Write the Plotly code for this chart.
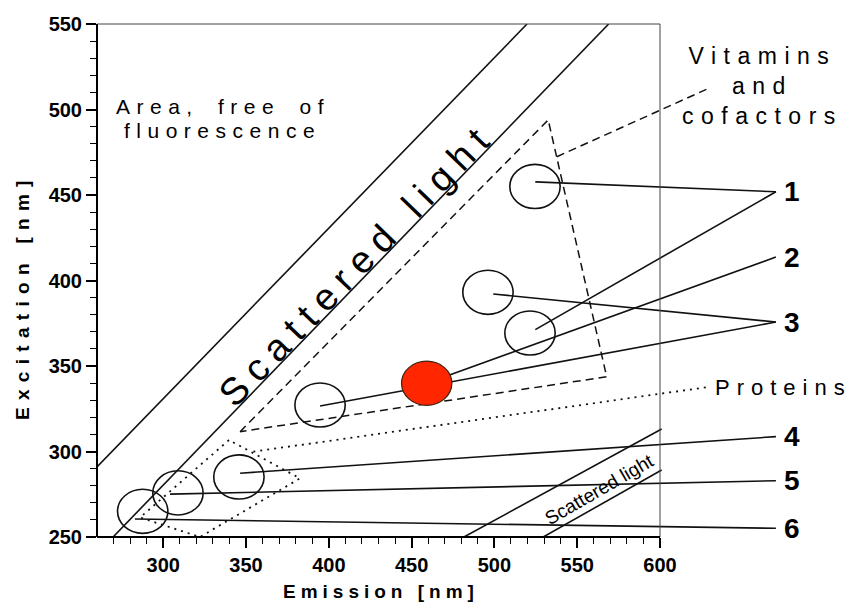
import plotly.graph_objects as go

# ---------------- data ----------------
x_ticks = [300, 350, 400, 450, 500, 550, 600]
y_ticks = [250, 300, 350, 400, 450, 500, 550]
x_minor = [v for v in range(270, 600, 10) if v % 50]
y_minor = [v for v in range(260, 550, 10) if v % 50]

# fluorophore spots (emission, excitation) in nm
spot_em = [524.5, 496.1, 521.5, 459.1, 394.7, 345.7, 308.9, 287.6]
spot_ex = [455.0, 393.1, 369.3, 339.9, 327.2, 285.1, 275.8, 265.0]
highlight_spot = 3

# numbered groups and their leader lines
group_labels = ["1", "2", "3", "4", "5", "6"]
group_ex = [451.9, 413.7, 375.7, 308.7, 282.9, 255.1]
group_em = 670.0
leader_from_em = [[524.7, 524.7], [459.1], [499.3, 394.7], [346.4], [304.1], [282.9]]
leader_from_ex = [[457.7, 371.3], [339.9], [392.1, 326.6], [287.3], [275.1], [260.5]]

# scattered light bands
ray_up_em, ray_up_ex = [260.0, 519.7], [291.0, 550.0]
ray_lo_em, ray_lo_ex = [269.7, 569.0], [250.0, 550.0]
sec_up_em, sec_up_ex = [481.6, 601.0], [250.0, 313.2]
sec_lo_em, sec_lo_ex = [529.5, 601.0], [250.0, 289.2]

# regions
vit_em = [346.4, 532.5, 567.8, 346.4]
vit_ex = [311.6, 493.9, 343.7, 311.6]
vit_ptr_em, vit_ptr_ex = [537.7, 628.1], [472.4, 511.8]
prot_em = [339.7, 286.0, 322.2, 382.6, 339.7]
prot_ex = [306.7, 261.4, 250.0, 284.3, 306.7]
prot_ptr_em, prot_ptr_ex = [354.4, 630.2], [299.9, 337.9]

# ---------------- layout geometry ----------------
W, H = 854, 607
ML, MT, MR, MB = 97, 24, 20, 70
X0, XFRAME = 260, 600
Y0, Y1 = 250, 550
FRAME_RIGHT_PX = 660
ppu = (FRAME_RIGHT_PX - ML) / (XFRAME - X0)
plot_w = W - ML - MR
plot_h = H - MT - MB
XMAX = X0 + plot_w / ppu
RX, RY = 15.2, 12.9

FONT = "Liberation Sans, Arial, Helvetica, sans-serif"
INK = "#111111"


def pp(px, py):
    return (px - ML) / plot_w, 1 - (py - MT) / plot_h


def spaced(t, ls, ws=0):
    return f'<span style="letter-spacing:{ls}px;word-spacing:{ws}px">{t}</span>'


fig = go.Figure()


def add_line(xs, ys, dash="solid", width=1.6, color=INK):
    fig.add_trace(go.Scatter(x=xs, y=ys, mode="lines", hoverinfo="skip",
                             line=dict(color=color, width=width, dash=dash),
                             showlegend=False))


add_line(ray_up_em, ray_up_ex)
add_line(ray_lo_em, ray_lo_ex)
add_line(sec_up_em, sec_up_ex)
add_line(sec_lo_em, sec_lo_ex)
add_line(vit_em, vit_ex, dash="8px,5px", width=1.5)
add_line(vit_ptr_em, vit_ptr_ex, dash="8px,5px", width=1.5)
add_line(prot_em, prot_ex, dash="2px,5px", width=1.8)
add_line(prot_ptr_em, prot_ptr_ex, dash="2px,5px", width=1.8)

for i, lab in enumerate(group_labels):
    for fx, fy in zip(leader_from_em[i], leader_from_ex[i]):
        add_line([fx, group_em], [fy, group_ex[i]], width=1.6)

shapes = []
for i, (cx, cy) in enumerate(zip(spot_em, spot_ex)):
    hl = i == highlight_spot
    shapes.append(dict(type="circle", xref="x", yref="y", layer="above",
                       x0=cx - RX, x1=cx + RX, y0=cy - RY, y1=cy + RY,
                       line=dict(color="#3a2010" if hl else INK, width=1.2 if hl else 1.6),
                       fillcolor="#FF2600" if hl else "rgba(0,0,0,0)"))

# frame
fx_right, _ = pp(FRAME_RIGHT_PX, 0)
shapes += [
    dict(type="line", xref="paper", yref="paper", x0=0, x1=fx_right, y0=1, y1=1,
         line=dict(color="#444444", width=1)),
    dict(type="line", xref="paper", yref="paper", x0=fx_right, x1=fx_right, y0=0, y1=1,
         line=dict(color="#444444", width=1)),
    dict(type="line", xref="paper", yref="paper", x0=0, x1=fx_right, y0=0, y1=0,
         line=dict(color="#000000", width=2)),
    dict(type="line", xref="paper", yref="paper", x0=0, x1=0, y0=0, y1=1,
         line=dict(color="#000000", width=2)),
]

ann = []


def text(px, py, t, size, angle=0, xanchor="center", bold=False):
    ax, ay = pp(px, py)
    ann.append(dict(xref="paper", yref="paper", x=ax, y=ay, text=t, showarrow=False,
                    textangle=angle, xanchor=xanchor, yanchor="middle",
                    font=dict(family=FONT, size=size, color="#000000",
                              weight="bold" if bold else "normal")))


text(223, 106, spaced("Area, free of", 6.5, 7), 21)
text(222, 130, spaced("fluorescence", 6.5), 21)
text(357, 264, spaced("Scattered light", 9), 38, angle=-46)
text(599, 489, "Scattered light", 19, angle=-30)
text(762, 86, spaced("Vitamins<br>and<br>cofactors", 7.5), 23)
text(713, 387, spaced("Proteins", 7), 22, xanchor="left")
for i, lab in enumerate(group_labels):
    gy = MT + (Y1 - group_ex[i]) / (Y1 - Y0) * plot_h
    text(782, gy, lab, 28, xanchor="left", bold=True)
text(381, 591, spaced("Emission [nm]", 5), 19, bold=True)
text(22, 297, spaced("Excitation [nm]", 7.3), 19, angle=-90, bold=True)

tick_font = dict(family=FONT, size=20, color="#000", weight="bold")
fig.update_layout(
    width=W, height=H, margin=dict(l=ML, r=MR, t=MT, b=MB, pad=0),
    paper_bgcolor="white", plot_bgcolor="white", hovermode=False,
    shapes=shapes, annotations=ann,
    xaxis=dict(range=[X0, XMAX], showline=False, showgrid=False, zeroline=False,
               tickmode="array", tickvals=x_ticks, ticktext=[str(v) for v in x_ticks],
               ticks="outside", ticklen=10, tickwidth=1.6, tickcolor="#000",
               tickfont=tick_font,
               minor=dict(tickmode="array", tickvals=x_minor, ticks="outside",
                          ticklen=6, tickwidth=1.4, tickcolor="#000", showgrid=False)),
    yaxis=dict(range=[Y0, Y1], showline=False, showgrid=False, zeroline=False,
               tickmode="array", tickvals=y_ticks, ticktext=[str(v) for v in y_ticks],
               ticks="outside", ticklen=10, tickwidth=1.6, tickcolor="#000",
               tickfont=tick_font,
               minor=dict(tickmode="array", tickvals=y_minor, ticks="outside",
                          ticklen=6, tickwidth=1.4, tickcolor="#000", showgrid=False)),
)

fig.write_html("out.html")
